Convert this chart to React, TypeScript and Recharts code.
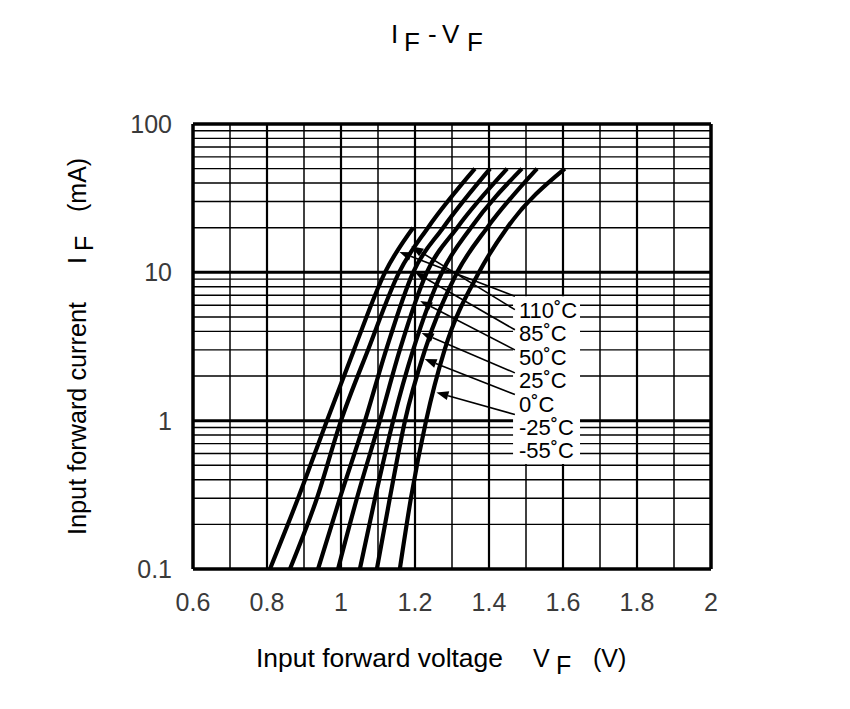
import React from "react"
import {
    LineChart,
    Line,
    XAxis,
    YAxis,
    ReferenceLine,
    ReferenceArea,
    ReferenceDot,
} from "recharts"

// forward current points (mA) shared by the curves
const CURRENT_MA = [0.1, 0.3, 1, 3, 10, 20, 50]

// forward voltage (V)
const VF_110 = [0.808, 0.884, 0.962, 1.035, 1.119, 1.195]
const VF_85 = [0.862, 0.935, 1.0, 1.073, 1.157, 1.235, 1.362]
const VF_50 = [0.938, 0.997, 1.065, 1.122, 1.195, 1.276, 1.403]
const VF_25 = [0.992, 1.043, 1.105, 1.159, 1.232, 1.314, 1.449]
const VF_0 = [1.051, 1.092, 1.141, 1.195, 1.273, 1.351, 1.489]
const VF_M25 = [1.097, 1.132, 1.173, 1.227, 1.314, 1.395, 1.53]
const VF_M55 = [1.159, 1.189, 1.23, 1.28, 1.373, 1.449, 1.605]

const TEMPS = ["110˚C", "85˚C", "50˚C", "25˚C", "0˚C", "-25˚C", "-55˚C"]
const SERIES = [VF_110, VF_85, VF_50, VF_25, VF_0, VF_M25, VF_M55]

// annotation arrows: tail at label box, head on curve
const ARROW_TAIL_V = 1.47
const ARROW_TAIL_I = [6.9, 5.6, 4.1, 3.0, 2.1, 1.5, 1.1]
const ARROW_HEAD_V = [1.158, 1.19, 1.2, 1.214, 1.218, 1.226, 1.258]
const ARROW_HEAD_I = [13.7, 15, 10, 6.4, 3.9, 2.6, 1.55]

// temperature label positions
const LABEL_V = 1.481
const LABEL_I = [5.54, 3.87, 2.67, 1.86, 1.3, 0.9, 0.63]

// axes and grid
const X_TICKS = [0.6, 0.8, 1, 1.2, 1.4, 1.6, 1.8, 2]
const X_MINOR = [0.7, 0.9, 1.1, 1.3, 1.5, 1.7, 1.9]
const X_MAJOR = [0.8, 1, 1.2, 1.4, 1.6, 1.8]
const Y_TICKS = [0.1, 1, 10, 100]
const Y_MINOR = [
    0.2, 0.3, 0.4, 0.5, 0.6, 0.7, 0.8, 0.9,
    2, 3, 4, 5, 6, 7, 8, 9,
    20, 30, 40, 50, 60, 70, 80, 90,
]
const Y_MAJOR = [1, 10]

const FONT = "'Liberation Sans', Arial, sans-serif"

function toPoints(vf: number[]) {
    return vf.map((v, i) => ({ v, i: CURRENT_MA[i] }))
}

function Arrow(props: any) {
    const { x1, y1, x2, y2 } = props
    const dx = x2 - x1
    const dy = y2 - y1
    const len = Math.sqrt(dx * dx + dy * dy) || 1
    const ux = dx / len
    const uy = dy / len
    const hl = 12
    const hw = 4.5
    const bx = x2 - ux * hl
    const by = y2 - uy * hl
    const pts = `${x2},${y2} ${bx - uy * hw},${by + ux * hw} ${bx + uy * hw},${by - ux * hw}`
    return (
        <g>
            <line x1={x1} y1={y1} x2={bx} y2={by} stroke="#000" strokeWidth={1.6} />
            <polygon points={pts} fill="#000" />
        </g>
    )
}

export default function App() {
    return (
        <div
            style={{
                position: "absolute",
                left: 0,
                top: 0,
                width: 850,
                height: 709,
                background: "#fff",
                fontFamily: FONT,
            }}
        >
            <LineChart
                width={850}
                height={709}
                margin={{ top: 124, right: 139, bottom: 100, left: 133 }}
            >
                <XAxis
                    type="number"
                    dataKey="v"
                    domain={[0.6, 2]}
                    ticks={X_TICKS}
                    allowDataOverflow
                    height={40}
                    axisLine={false}
                    tickLine={false}
                    tickSize={22}
                    tickMargin={2}
                    tick={{ fontSize: 25, fill: "#3a3a3a" }}
                />
                <YAxis
                    type="number"
                    dataKey="i"
                    scale="log"
                    domain={[0.1, 100]}
                    ticks={Y_TICKS}
                    allowDataOverflow
                    width={60}
                    axisLine={false}
                    tickLine={false}
                    tickSize={19}
                    tickMargin={2}
                    tick={{ fontSize: 25, fill: "#3a3a3a" }}
                />

                {Y_MINOR.map((y) => (
                    <ReferenceLine key={"ym" + y} y={y} stroke="#000" strokeWidth={1.4} />
                ))}
                {X_MINOR.map((x) => (
                    <ReferenceLine key={"xm" + x} x={x} stroke="#000" strokeWidth={1.5} />
                ))}
                {X_MAJOR.map((x) => (
                    <ReferenceLine key={"xM" + x} x={x} stroke="#000" strokeWidth={2.2} />
                ))}
                {Y_MAJOR.map((y) => (
                    <ReferenceLine key={"yM" + y} y={y} stroke="#000" strokeWidth={3} />
                ))}
                <ReferenceLine x={0.6} stroke="#000" strokeWidth={3.5} />
                <ReferenceLine x={2} stroke="#000" strokeWidth={3.5} />
                <ReferenceLine y={0.1} stroke="#000" strokeWidth={3.5} />
                <ReferenceLine y={100} stroke="#000" strokeWidth={3.5} />

                <ReferenceArea
                    x1={1.465}
                    x2={1.646}
                    y1={0.51}
                    y2={6.9}
                    fill="#fff"
                    fillOpacity={1}
                    stroke="none"
                    zIndex={450}
                />

                {SERIES.map((vf, k) => (
                    <Line
                        key={TEMPS[k]}
                        data={toPoints(vf)}
                        dataKey="i"
                        type="monotone"
                        stroke="#000"
                        strokeWidth={4.2}
                        dot={false}
                        activeDot={false}
                        isAnimationActive={false}
                    />
                ))}

                {ARROW_TAIL_I.map((ti, k) => (
                    <ReferenceLine
                        key={"ar" + k}
                        segment={[
                            { x: ARROW_TAIL_V, y: ti },
                            { x: ARROW_HEAD_V[k], y: ARROW_HEAD_I[k] },
                        ]}
                        shape={Arrow}
                        zIndex={500}
                    />
                ))}

                {LABEL_I.map((li, k) => (
                    <ReferenceDot
                        key={"lb" + k}
                        x={LABEL_V}
                        y={li}
                        r={0}
                        fill="none"
                        stroke="none"
                        zIndex={600}
                        label={{
                            value: TEMPS[k],
                            position: "right",
                            offset: 0,
                            fontSize: 22,
                            fill: "#000",
                        }}
                    />
                ))}
            </LineChart>

            <svg
                width={850}
                height={709}
                style={{ position: "absolute", left: 0, top: 0, pointerEvents: "none" }}
                fontFamily={FONT}
                fill="#000"
            >
                <text x={391} y={43} fontSize={26}>I</text>
                <text x={404} y={51} fontSize={26}>F</text>
                <text x={428} y={43} fontSize={26}>-</text>
                <text x={442} y={43} fontSize={26}>V</text>
                <text x={467} y={51} fontSize={26}>F</text>

                <text x={256} y={667} fontSize={25} textLength={247} lengthAdjust="spacingAndGlyphs">
                    Input forward voltage
                </text>
                <text x={533} y={667} fontSize={25}>V</text>
                <text x={556} y={674} fontSize={25}>F</text>
                <text x={593} y={667} fontSize={25}>(V)</text>

                <g transform="translate(86, 535) rotate(-90)">
                    <text x={0} y={0} fontSize={25} textLength={233} lengthAdjust="spacingAndGlyphs">
                        Input forward current
                    </text>
                    <text x={271} y={0} fontSize={25}>I</text>
                    <text x={284} y={7} fontSize={25}>F</text>
                    <text x={323} y={0} fontSize={25}>(mA)</text>
                </g>
            </svg>
        </div>
    )
}
